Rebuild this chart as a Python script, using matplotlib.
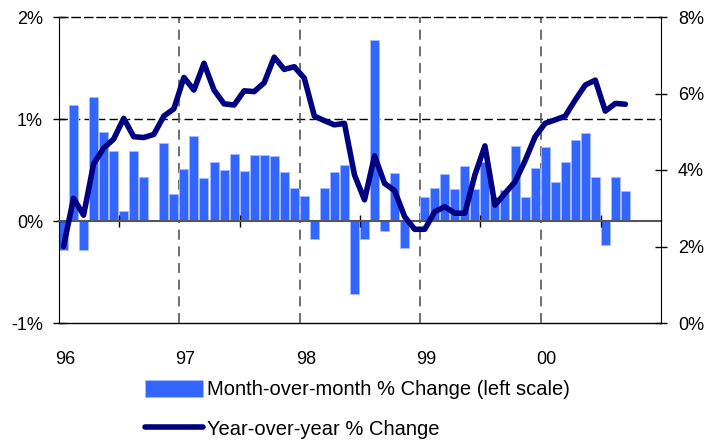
import matplotlib
matplotlib.use("Agg")
import matplotlib.pyplot as plt
from matplotlib.patches import Patch
from matplotlib.lines import Line2D
from matplotlib.ticker import FuncFormatter

plt.rcParams['font.family'] = ['Liberation Sans', 'DejaVu Sans']

# Monthly data, Jan 1996 .. Sep 2000
start_year = 1996
mom = [-0.28, 1.14, -0.28, 1.22, 0.87, 0.69, 0.10, 0.69, 0.43, 0.0, 0.76, 0.26,
       0.51, 0.83, 0.42, 0.58, 0.50, 0.66, 0.49, 0.65, 0.65, 0.64, 0.48, 0.32,
       0.25, -0.18, 0.32, 0.48, 0.55, -0.72, -0.18, 1.77, -0.10, 0.47, -0.26, 0.0,
       0.24, 0.32, 0.46, 0.31, 0.54, 0.31, 0.58, 0.24, 0.30, 0.74, 0.24, 0.52,
       0.73, 0.38, 0.58, 0.79, 0.86, 0.43, -0.235, 0.43, 0.29]
yoy = [2.00, 3.26, 2.82, 4.16, 4.57, 4.81, 5.35, 4.87, 4.85, 4.93, 5.41, 5.60,
       6.42, 6.09, 6.79, 6.09, 5.73, 5.70, 6.07, 6.05, 6.28, 6.95, 6.63, 6.70,
       6.40, 5.41, 5.29, 5.18, 5.22, 3.87, 3.22, 4.37, 3.65, 3.46, 2.78, 2.45,
       2.45, 2.91, 3.04, 2.87, 2.87, 3.87, 4.63, 3.08, 3.39, 3.69, 4.24, 4.87,
       5.22, 5.31, 5.41, 5.83, 6.22, 6.35, 5.54, 5.74, 5.72]
year_ticks = [1996, 1997, 1998, 1999, 2000]
year_labels = ['96', '97', '98', '99', '00']
left_ticks = [-1, 0, 1, 2]
right_ticks = [0, 2, 4, 6, 8]

bar_color = '#3366FF'
line_color = '#000080'
tick_fs = 13
legend_fs = 14.5

fig = plt.figure(figsize=(7.07, 4.41), dpi=100)
W, H = 707, 441
ax = fig.add_axes([59 / W, 1 - 323 / H, (661 - 59) / W, (323 - 17) / H])
ax2 = ax.twinx()

bw = 0.9 / 12
x_bar = [start_year + k / 12 for k in range(len(mom))]
x_line = [x + bw / 2 for x in x_bar[:len(yoy)]]

ax.bar(x_bar, mom, width=bw, align='edge', color=bar_color,
       edgecolor='#a8bcff', linewidth=0.6, zorder=1)
ax.set_xlim(1996, 2001)
ax.set_ylim(-1, 2)

# grid
ax.axhline(1, color='black', lw=1, ls=(0, (6, 3)), zorder=0.5)
for yr in year_ticks[1:]:
    ax.axvline(yr, color='#555555', lw=1.2, ls=(0, (6, 4)), zorder=0.5)

# spines
ax.spines['top'].set_linestyle((0, (6, 3)))
ax.spines['top'].set_linewidth(1)
ax.spines['right'].set_visible(False)
ax.spines['left'].set_color('black')
ax.spines['bottom'].set_position(('data', 0))
ax.spines['bottom'].set_color('#555555')
ax.spines['bottom'].set_linewidth(1.5)

ax.set_xticks([y + 0.5 for y in year_ticks])
ax.set_xticklabels([])
ax.tick_params(axis='x', direction='inout', length=8.6, width=1, color='black')

ax.set_yticks(left_ticks)
ax.yaxis.set_major_formatter(FuncFormatter(lambda v, p: f'{v:.0f}%'))
ax.tick_params(axis='y', direction='inout', length=8.6, width=1, pad=7.2,
               labelsize=tick_fs)

sec = ax.secondary_xaxis('bottom')
sec.set_xticks([y + 0.05 for y in year_ticks])
sec.set_xticklabels(year_labels)
sec.tick_params(length=0, pad=20.5, labelsize=tick_fs)
sec.spines['bottom'].set_color('black')
sec.spines['bottom'].set_linewidth(1)

ax2.plot(x_line, yoy, color=line_color, lw=4, solid_joinstyle='round',
         solid_capstyle='round')
ax2.set_ylim(0, 8)
ax2.set_yticks(right_ticks)
ax2.yaxis.set_major_formatter(FuncFormatter(lambda v, p: f'{v:.0f}%'))
ax2.tick_params(axis='y', direction='inout', length=8.6, width=1, pad=7.9,
                labelsize=tick_fs)
for s in ['top', 'left', 'bottom']:
    ax2.spines[s].set_visible(False)
ax2.spines['right'].set_color('black')

handles = [Patch(facecolor=bar_color, edgecolor='#a8bcff', linewidth=0.6),
           Line2D([0], [0], color=line_color, lw=4, solid_capstyle='round')]
labels = ['Month-over-month % Change (left scale)', 'Year-over-year % Change']
fs_px = legend_fs * 100 / 72
fig.legend(handles, labels, loc='upper left',
           bbox_to_anchor=(145 / W, 1 - 380 / H), bbox_transform=fig.transFigure,
           frameon=False, fontsize=legend_fs, handlelength=58 / fs_px,
           handleheight=0.9, handletextpad=0.2, labelspacing=1.0,
           borderpad=0, borderaxespad=0)

fig.savefig('out.png', dpi=100)
